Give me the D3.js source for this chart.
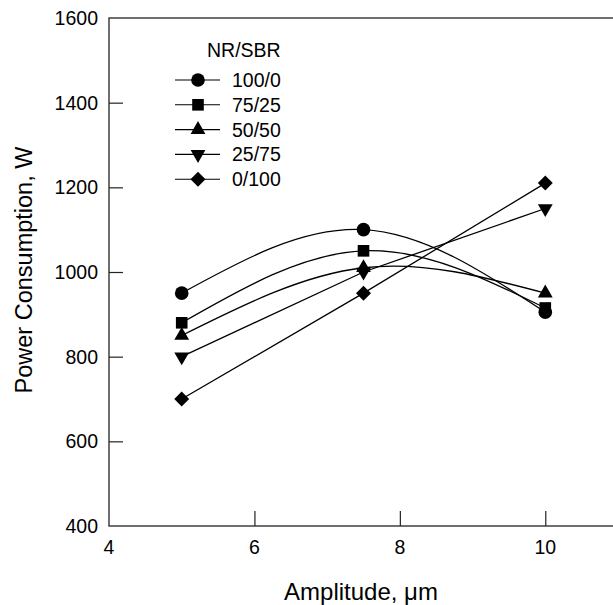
<!DOCTYPE html>
<html>
<head>
<meta charset="utf-8">
<script src="https://cdn.jsdelivr.net/npm/d3@7"></script>
<style>
  body { margin: 0; background: #fff; }
  svg text { font-family: "Liberation Sans", Arial, sans-serif; fill: #000; }
</style>
</head>
<body>
<svg id="chart" width="613" height="605"></svg>
<script>
// data
var amplitudes = [5, 7.5, 10]
var seriesNames = ["100/0", "75/25", "50/50", "25/75", "0/100"]
var power_100_0 = [950, 1100, 905]
var power_75_25 = [880, 1050, 915]
var power_50_50 = [850, 1010, 950]
var power_25_75 = [800, 1000, 1150]
var power_0_100 = [700, 950, 1210]
var xTicks = [4, 6, 8, 10]
var yTicks = [400, 600, 800, 1000, 1200, 1400, 1600]

var seriesValues = [power_100_0, power_75_25, power_50_50, power_25_75, power_0_100]
var symbols = [d3.symbolCircle, d3.symbolSquare, d3.symbolTriangle, d3.symbolTriangle, d3.symbolSquare]
var symbolSizes = [145, 135, 95, 95, 112]
var rotations = [0, 0, 0, 180, 45]
var smooth = [true, true, true, false, false]

var svg = d3.select("#chart")
const margins = {top: 18, right: -5, bottom: 79, left: 109}
var width = 613, height = 605

var xScale = d3.scaleLinear()
    .domain([4, 11])
    .range([margins.left, width - margins.right]);
var yScale = d3.scaleLinear()
    .domain([400, 1600])
    .range([height - margins.bottom, margins.top]);

// frame
svg.append("rect")
    .attr("x", xScale(4)).attr("y", yScale(1600))
    .attr("width", xScale(11) - xScale(4))
    .attr("height", yScale(400) - yScale(1600))
    .attr("fill", "none").attr("stroke", "#222").attr("stroke-width", 1.3);

// inward ticks
var xAxis = d3.axisTop(xScale).tickValues(xTicks.slice(1)).tickSize(15).tickFormat("");
svg.append("g").attr("class", "xaxis")
    .attr("transform", "translate(0," + yScale(400) + ")")
    .call(xAxis)
    .call(g => g.select(".domain").remove())
    .selectAll("line").attr("stroke", "#222").attr("stroke-width", 1.2);

var yAxis = d3.axisRight(yScale).tickValues(yTicks.slice(1, -1)).tickSize(14).tickFormat("");
svg.append("g").attr("class", "yaxis")
    .attr("transform", "translate(" + xScale(4) + ",0)")
    .call(yAxis)
    .call(g => g.select(".domain").remove())
    .selectAll("line").attr("stroke", "#222").attr("stroke-width", 1.2);

// tick labels
svg.append("g").selectAll("text")
    .data(xTicks).enter()
    .append("text")
    .attr("x", d => xScale(d))
    .attr("y", yScale(400) + 28)
    .attr("text-anchor", "middle")
    .attr("font-size", 19.5)
    .text(d => d);

svg.append("g").selectAll("text")
    .data(yTicks).enter()
    .append("text")
    .attr("x", xScale(4) - 11)
    .attr("y", d => yScale(d) + 7)
    .attr("text-anchor", "end")
    .attr("font-size", 19.5)
    .text(d => d);

// axis titles
svg.append("text")
    .attr("x", 361).attr("y", 600)
    .attr("text-anchor", "middle")
    .attr("font-size", 24)
    .text("Amplitude, \u03bcm");

svg.append("text")
    .attr("transform", "translate(32," + 270 + ") rotate(-90)")
    .attr("text-anchor", "middle")
    .attr("font-size", 23.5)
    .text("Power Consumption, W");

// series
var lineSmooth = d3.line()
    .x((d, i) => xScale(amplitudes[i]))
    .y(d => yScale(d))
    .curve(d3.curveNatural);
var lineStraight = d3.line()
    .x((d, i) => xScale(amplitudes[i]))
    .y(d => yScale(d));

function marker(g, index) {
    g.attr("d", d3.symbol().type(symbols[index]).size(symbolSizes[index]))
        .attr("fill", "#000");
}

seriesValues.forEach(function(values, index) {
    svg.append("path")
        .datum(values)
        .attr("fill", "none")
        .attr("stroke", "#000")
        .attr("stroke-width", 1.3)
        .attr("d", smooth[index] ? lineSmooth : lineStraight);

    svg.append("g").selectAll("path")
        .data(values).enter()
        .append("path")
        .attr("transform", (d, i) => "translate(" + xScale(amplitudes[i]) + "," + yScale(d) + ") rotate(" + rotations[index] + ")")
        .call(marker, index);
});

// legend
var legend = svg.append("g").attr("class", "legend");
legend.append("text")
    .attr("x", 207).attr("y", 57)
    .attr("font-size", 19.5)
    .text("NR/SBR");

var legendItems = legend.selectAll("g.item")
    .data(seriesNames).enter()
    .append("g").classed("item", true)
    .attr("transform", (d, i) => "translate(198," + (80 + i * 24.8) + ")");

legendItems.append("line")
    .attr("x1", -23).attr("x2", 22)
    .attr("stroke", "#000").attr("stroke-width", 1.1);

legendItems.append("path")
    .each(function(d, i) {
        d3.select(this)
            .attr("transform", "rotate(" + rotations[i] + ")")
            .call(marker, i);
    });

legendItems.append("text")
    .attr("x", 34).attr("y", 7)
    .attr("font-size", 19.5)
    .text(d => d);
</script>
</body>
</html>
